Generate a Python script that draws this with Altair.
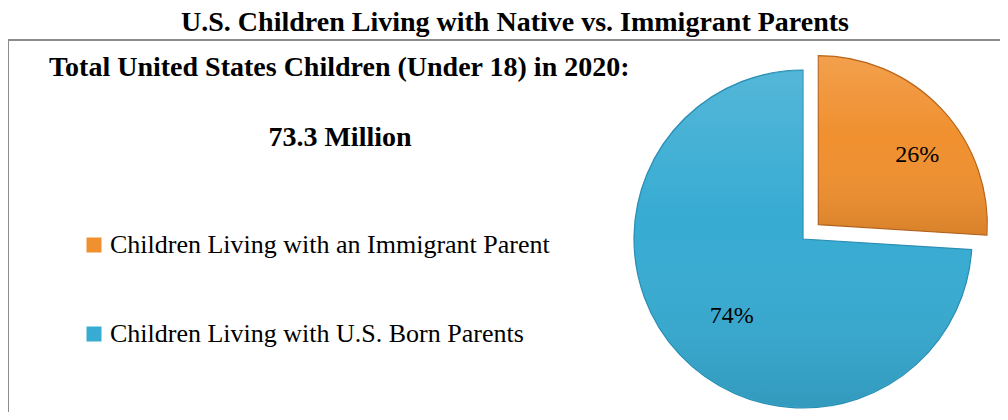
import altair as alt
import pandas as pd

# ---- data ----
chart_title = "U.S. Children Living with Native vs. Immigrant Parents"
heading = ["Total United States Children (Under 18) in 2020:"]
total_label = ["73.3 Million"]
categories = ["Children Living with an Immigrant Parent", "Children Living with U.S. Born Parents"]
shares = [26, 74]
pct_labels = ["26%", "74%"]

FONT = "Liberation Serif"
ORANGE = "#F0902F"
BLUE = "#37ABD2"
ORANGE_EDGE = "#B9651C"
BLUE_EDGE = "#2B8DB2"

df = pd.DataFrame({"category": categories, "share": shares,
                   "label": pct_labels, "order": list(range(len(categories)))})

CX, CY, R, EXPLODE = 795, 199, 169, 21

base = (
    alt.Chart(df)
    .transform_window(cum="sum(share)", sort=[{"field": "order"}], frame=[None, 0])
    .transform_joinaggregate(total="sum(share)")
    .transform_calculate(
        t1="2*PI*datum.cum/datum.total",
        t0="2*PI*(datum.cum-datum.share)/datum.total",
    )
    .transform_calculate(
        mid="(datum.t0+datum.t1)/2",
        off=f"datum.category=='{categories[0]}' ? {EXPLODE} : 0",
    )
    .transform_calculate(
        cx=f"{CX} + datum.off*sin(datum.mid)",
        cy=f"{CY} - datum.off*cos(datum.mid)",
        la="datum.mid + (datum.off > 0 ? 0.14 : -0.07)",
        lr="datum.off > 0 ? 121 : 105",
    )
    .transform_calculate(
        lx="datum.cx + datum.lr*sin(datum.la)",
        ly="datum.cy - datum.lr*cos(datum.la)",
    )
)

geo = dict(
    theta=alt.Theta("t0:Q", scale=None),
    theta2="t1:Q",
    x=alt.X("cx:Q", scale=None),
    y=alt.Y("cy:Q", scale=None),
)

arcs = base.mark_arc(outerRadius=R, strokeWidth=1.2).encode(
    **geo,
    color=alt.Color(
        "category:N",
        scale=alt.Scale(domain=categories, range=[ORANGE, BLUE]),
        legend=alt.Legend(
            title=None, orient="none", legendX=73, legendY=192,
            direction="vertical", symbolType="square", symbolSize=225,
            symbolStrokeWidth=0, labelFont=FONT, labelFontSize=26,
            labelColor="#000000", labelLimit=0, rowPadding=63, labelOffset=3,
        ),
    ),
    stroke=alt.Stroke("category:N",
                      scale=alt.Scale(domain=categories, range=[ORANGE_EDGE, BLUE_EDGE]),
                      legend=None),
)

shade = base.mark_arc(
    outerRadius=R - 1,
    fill=alt.Gradient(
        gradient="linear", x1=0, x2=0, y1=0, y2=1,
        stops=[alt.GradientStop(color="rgba(255,255,255,0.14)", offset=0),
               alt.GradientStop(color="rgba(255,255,255,0.0)", offset=0.45),
               alt.GradientStop(color="rgba(0,0,0,0.10)", offset=1)],
    ),
).encode(**geo)

labels = base.mark_text(font=FONT, fontSize=24, color="#000000",
                        align="center", baseline="middle").encode(
    x=alt.X("lx:Q", scale=None),
    y=alt.Y("ly:Q", scale=None),
    text="label:N",
)

border = alt.Chart(pd.DataFrame({"b": [0]})).mark_rect(
    fill="#ffffff", stroke="#8c8c8c", strokeWidth=2
).encode(x=alt.value(0), x2=alt.value(1200), y=alt.value(0), y2=alt.value(600))

head = alt.Chart(pd.DataFrame({"t": heading})).mark_text(
    font=FONT, fontSize=28, fontWeight="bold", align="left", baseline="alphabetic", color="#000000"
).encode(x=alt.value(41), y=alt.value(36), text="t:N")

tot = alt.Chart(pd.DataFrame({"t": total_label})).mark_text(
    font=FONT, fontSize=28, fontWeight="bold", align="center", baseline="alphabetic", color="#000000"
).encode(x=alt.value(332), y=alt.value(106), text="t:N")

chart = (
    alt.layer(border, arcs, shade, labels, head, tot)
    .properties(
        width=992, height=372,
        padding={"left": 0, "top": 32, "right": 0, "bottom": 0},
        autosize=alt.AutoSizeParams(type="none"),
        title=alt.TitleParams(chart_title, font=FONT, fontSize=28, fontWeight="bold",
                              anchor="middle", color="#000000", dx=11, offset=2),
        background="#ffffff",
    )
    .configure_view(stroke=None)
)

chart.save("out.html", embed_options={"renderer": "svg", "actions": False})
